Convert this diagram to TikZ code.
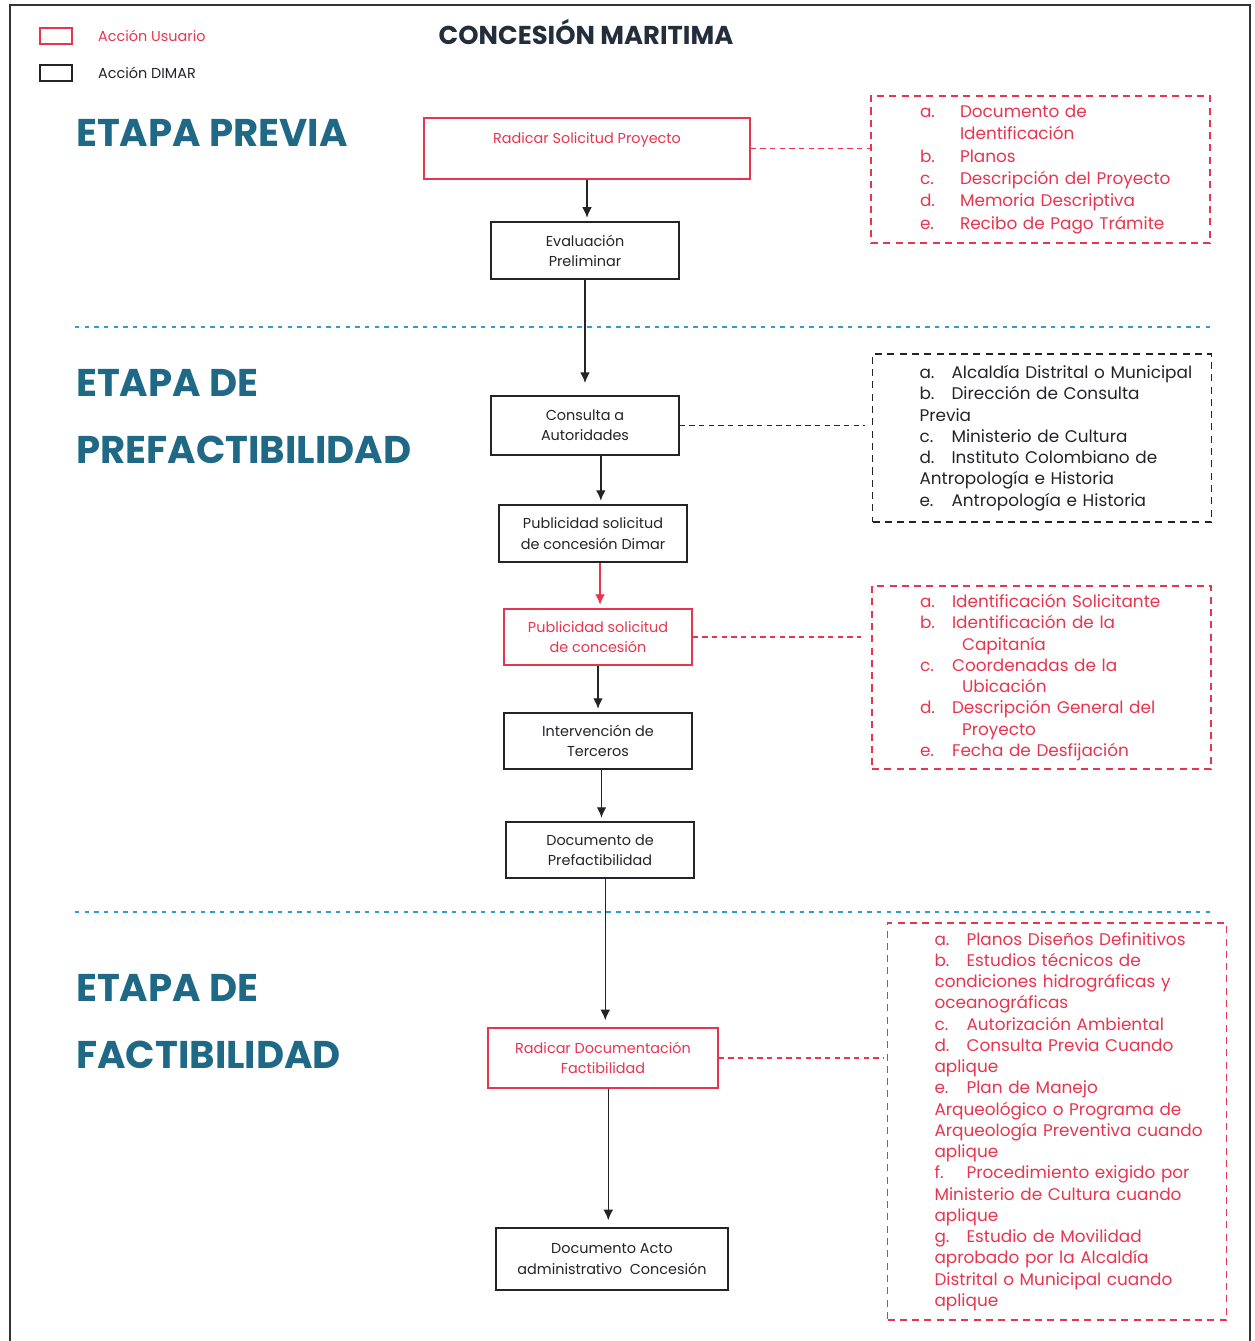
\documentclass[tikz,border=0pt]{standalone}
\usepackage{fontspec}
\setmainfont{Poppins}
\usetikzlibrary{arrows.meta}

\definecolor{userred}{RGB}{232,52,78}
\definecolor{dimarcol}{RGB}{35,35,40}
\definecolor{stagecol}{RGB}{31,105,135}
\definecolor{titlecol}{RGB}{35,45,60}
\definecolor{sepblue}{RGB}{50,155,205}

\newcommand{\ltr}[2][0.64cm]{\makebox[#1][l]{#2}}

\tikzset{
	stepbase/.style={line width=0.8pt, align=center, inner sep=2pt, font=\fontsize{8.2}{11.5}\selectfont},
	userbox/.style={stepbase, draw=userred, text=userred},
	dimarbox/.style={stepbase, draw=dimarcol, text=dimarcol},
	sidelist/.style={dashed, dash pattern=on 4pt off 3pt, line width=0.8pt, text width=6.78cm, inner xsep=0pt, align=left, font=\fontsize{9.6}{12.1}\selectfont},
	flow/.style={-{Latex[length=6pt,width=5.5pt]}, dimarcol, line width=0.8pt, shorten >=2pt},
	stage/.style={anchor=west, align=left, text=stagecol, font=\fontsize{22}{38}\selectfont\bfseries},
	sepline/.style={sepblue, line width=1.1pt, dash pattern=on 2.5pt off 3pt}
}

\begin{document}
\begin{tikzpicture}[x=0.02cm, y=-0.02cm]

	\useasboundingbox (0,0) rectangle (1254,1341);
	\draw[gray!40!black, line width=1.4pt] (10,1341) -- (10,5) -- (1250,5) -- (1250,1341);

	%legend
	\node[draw=userred, line width=0.8pt, minimum width=0.64cm, minimum height=0.32cm, inner sep=0pt] (legUser) at (56,36) {};
	\node[anchor=west, text=userred, font=\fontsize{8.2}{9}\selectfont] (legUserTxt) at (92,36) {Acción Usuario};
	\node[draw=dimarcol, line width=0.8pt, minimum width=0.64cm, minimum height=0.32cm, inner sep=0pt] (legDimar) at (56,73) {};
	\node[anchor=west, text=dimarcol, font=\fontsize{8.2}{9}\selectfont] (legDimarTxt) at (92,73) {Acción DIMAR};

	%title
	\node[text=titlecol, font=\fontsize{14.7}{16}\selectfont\bfseries] (Title) at (586,32) {CONCESIÓN MARITIMA};

	%stages
	\node[stage] (StagePrev) at (70,133) {ETAPA PREVIA};
	\node[stage] (StagePref) at (70,416.5) {ETAPA DE\\PREFACTIBILIDAD};
	\node[stage] (StageFact) at (70,1021.5) {ETAPA DE\\FACTIBILIDAD};
	\draw[sepline] (75,327) -- (1210,327);
	\draw[sepline] (75,912) -- (1210,912);

	%main flow
	\node[userbox, minimum width=6.52cm, minimum height=1.22cm] (Radicar) at (587,148.5) {Radicar Solicitud Proyecto\\~};
	\node[dimarbox, minimum width=3.76cm, minimum height=1.14cm] (Eval) at (585,250.5) {Evaluación\\Preliminar};
	\node[dimarbox, minimum width=3.76cm, minimum height=1.18cm] (Consulta) at (585,425.5) {Consulta a\\Autoridades};
	\node[dimarbox, minimum width=3.76cm, minimum height=1.14cm] (PubDimar) at (593,533.5) {Publicidad solicitud\\de concesión Dimar};
	\node[userbox, minimum width=3.76cm, minimum height=1.12cm] (PubUser) at (598,637) {Publicidad solicitud\\de concesión};
	\node[dimarbox, minimum width=3.76cm, minimum height=1.12cm] (Terceros) at (598,741) {Intervención de\\Terceros};
	\node[dimarbox, minimum width=3.76cm, minimum height=1.12cm] (DocPref) at (600,850) {Documento de\\Prefactibilidad};
	\node[userbox, minimum width=4.6cm, minimum height=1.2cm] (RadFact) at (603,1058) {Radicar Documentación\\Factibilidad};
	\node[dimarbox, minimum width=4.64cm, minimum height=1.24cm] (ActoAdm) at (612,1259) {Documento Acto\\administrativo\ \ Concesión};

	\draw[flow] (Radicar.south) -- (Radicar.south |- Eval.north);
	\draw[flow, shorten >=7pt] (Eval.south) -- (Eval.south |- Consulta.north);
	\draw[flow] ([xshift=9pt]Consulta.south) -- ([xshift=9pt]Consulta.south |- PubDimar.north);
	\draw[flow, userred] ([xshift=4pt]PubDimar.south) -- ([xshift=4pt]PubDimar.south |- PubUser.north);
	\draw[flow] (PubUser.south) -- (PubUser.south |- Terceros.north);
	\draw[flow] ([xshift=2pt]Terceros.south) -- ([xshift=2pt]Terceros.south |- DocPref.north);
	\draw[flow, shorten >=4pt] ([xshift=3pt]DocPref.south) -- ([xshift=3pt]DocPref.south |- RadFact.north);
	\draw[flow, shorten >=4pt] ([xshift=3pt]RadFact.south) -- ([xshift=3pt]RadFact.south |- ActoAdm.north);

	%requirement lists
	\node[sidelist, draw=userred, text=userred, minimum height=2.94cm, font=\fontsize{9.6}{12.7}\selectfont] (ReqPrev) at (1040.5,169.5) {\leftskip=0.98cm
		\ltr[0.8cm]{a.}Documento de\\
		\hspace*{0.8cm}Identificación\\
		\ltr[0.8cm]{b.}Planos\\
		\ltr[0.8cm]{c.}Descripción del Proyecto\\
		\ltr[0.8cm]{d.}Memoria Descriptiva\\
		\ltr[0.8cm]{e.}Recibo de Pago Trámite\par};
	\node[sidelist, draw=dimarcol, text=dimarcol, minimum height=3.36cm] (ReqAut) at (1042,438) {\leftskip=0.94cm
		\ltr{a.}Alcaldía Distrital o Municipal\\
		\ltr{b.}Dirección de Consulta\\
		Previa\\
		\ltr{c.}Ministerio de Cultura\\
		\ltr{d.}Instituto Colombiano de\\
		Antropología e Historia\\
		\ltr{e.}Antropología e Historia\par};
	\node[sidelist, draw=userred, text=userred, minimum height=3.66cm] (ReqPub) at (1041.5,677.5) {\leftskip=0.96cm
		\ltr{a.}Identificación Solicitante\\
		\ltr{b.}Identificación de la\\
		\hspace*{0.84cm}Capitanía\\
		\ltr{c.}Coordenadas de la\\
		\hspace*{0.84cm}Ubicación\\
		\ltr{d.}Descripción General del\\
		\hspace*{0.84cm}Proyecto\\
		\ltr{e.}Fecha de Desfijación\par};
	\node[sidelist, draw=userred, text=userred, minimum height=7.94cm] (ReqFact) at (1057,1121.5) {\leftskip=0.94cm
		\ltr{a.}Planos Diseños Definitivos\\
		\ltr{b.}Estudios técnicos de\\
		condiciones hidrográficas y\\
		oceanográficas\\
		\ltr{c.}Autorización Ambiental\\
		\ltr{d.}Consulta Previa Cuando\\
		aplique\\
		\ltr{e.}Plan de Manejo\\
		Arqueológico o Programa de\\
		Arqueología Preventiva cuando\\
		aplique\\
		\ltr{f.}Procedimiento exigido por\\
		Ministerio de Cultura cuando\\
		aplique\\
		\ltr{g.}Estudio de Movilidad\\
		aprobado por la Alcaldía\\
		Distrital o Municipal cuando\\
		aplique\par};

	\draw[dashed, dash pattern=on 3pt off 2.5pt, userred, line width=0.8pt] (Radicar.east) -- (Radicar.east -| ReqPrev.west);
	\draw[dashed, dash pattern=on 3pt off 2.5pt, dimarcol, line width=0.8pt] (Consulta.east) -- ([xshift=-4pt]Consulta.east -| ReqAut.west);
	\draw[dashed, dash pattern=on 3pt off 2.5pt, userred, line width=0.8pt] (PubUser.east) -- ([xshift=-6pt]PubUser.east -| ReqPub.west);
	\draw[dashed, dash pattern=on 3pt off 2.5pt, userred, line width=0.8pt] (RadFact.east) -- ([xshift=-2pt]RadFact.east -| ReqFact.west);
\end{tikzpicture}
\end{document}
